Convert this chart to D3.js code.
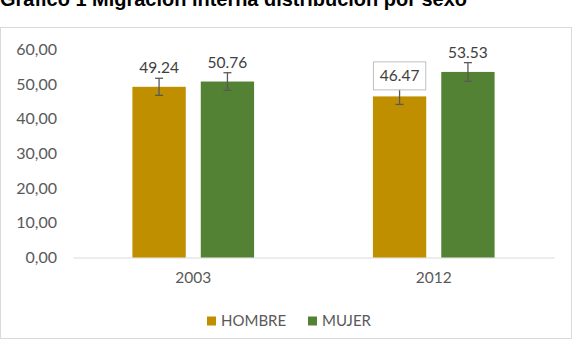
<!DOCTYPE html>
<html>
<head>
<meta charset="utf-8">
<script src="https://cdn.jsdelivr.net/npm/d3@7"></script>
<style>
  body { margin: 0; background: #fff; }
  svg { display: block; }
</style>
</head>
<body>
<div id="chart"></div>
<script>
// data
const years = ["2003", "2012"];
const seriesNames = ["HOMBRE", "MUJER"];
const hombre = [49.24, 46.47];
const mujer = [50.76, 53.53];
const hombreErr = [2.46, 2.32];
const mujerErr = [2.54, 2.68];
const yTicks = [0, 10, 20, 30, 40, 50, 60];
const colors = ["#bf8f00", "#548235"];

const W = 576, H = 350;
const margin = { top: 49.5, right: 22, bottom: 92.5, left: 73 };
const width = W - margin.left - margin.right,
    height = H - margin.top - margin.bottom;

const svg = d3.select("#chart").append("svg")
    .attr("width", W)
    .attr("height", H);

// title (top is cut off in the source too)
svg.append("text")
    .attr("x", 0)
    .attr("y", 6)
    .attr("textLength", 467)
    .attr("lengthAdjust", "spacingAndGlyphs")
    .style("font-family", "Liberation Sans, Arial, sans-serif")
    .style("font-weight", "bold")
    .style("font-size", "20px")
    .attr("fill", "#000")
    .text("Gráfico 1 Migración interna distribución por sexo");

// chart border
svg.append("rect")
    .attr("x", 0.5).attr("y", 27.5)
    .attr("width", 571).attr("height", 311)
    .attr("fill", "none")
    .attr("stroke", "#d9d9d9");

const g = svg.append("g")
    .attr("transform", "translate(" + margin.left + "," + margin.top + ")");

const x0 = d3.scaleBand()
    .domain(years)
    .range([0, width])
    .paddingInner(0.494)
    .paddingOuter(0.247);

const x1 = d3.scaleBand()
    .domain(seriesNames)
    .range([0, x0.bandwidth()])
    .paddingInner(0.22);

const y = d3.scaleLinear()
    .domain([0, 60])
    .range([height, 0]);

const font = "Lato, 'Open Sans', sans-serif";

// y axis labels
const yAxis = g.append("g")
    .call(d3.axisLeft(y).tickValues(yTicks).tickSize(0).tickPadding(16)
        .tickFormat(d => d3.format(".2f")(d).replace(".", ",")));
yAxis.select(".domain").remove();
yAxis.selectAll("text")
    .style("font-family", font)
    .style("font-size", "16px")
    .attr("fill", "#595959");

// x axis
const xAxis = g.append("g")
    .attr("transform", "translate(0," + height + ")")
    .call(d3.axisBottom(x0.copy().paddingInner(0).paddingOuter(0)).tickSize(0).tickPadding(14));
xAxis.select(".domain").attr("stroke", "#d9d9d9");
xAxis.selectAll("text")
    .style("font-family", font)
    .style("font-size", "15.5px")
    .attr("fill", "#595959");

const rows = years.map((yr, i) => ({
    year: yr,
    vals: [
        { s: seriesNames[0], v: hombre[i], e: hombreErr[i], c: colors[0] },
        { s: seriesNames[1], v: mujer[i], e: mujerErr[i], c: colors[1] }
    ]
}));

const groups = g.selectAll(".grp")
    .data(rows)
    .enter().append("g")
    .attr("class", "grp")
    .attr("transform", d => "translate(" + x0(d.year) + ",0)");

const bars = groups.selectAll(".bar")
    .data(d => d.vals.map(v => Object.assign({ year: d.year }, v)))
    .enter().append("g")
    .attr("class", "bar");

bars.append("rect")
    .attr("x", d => x1(d.s))
    .attr("y", d => y(d.v))
    .attr("width", x1.bandwidth())
    .attr("height", d => height - y(d.v))
    .attr("fill", d => d.c);

// error bars
const eb = bars.append("g")
    .attr("stroke", "#595959")
    .attr("stroke-width", 1.3);
eb.append("line")
    .attr("x1", d => x1(d.s) + x1.bandwidth() / 2)
    .attr("x2", d => x1(d.s) + x1.bandwidth() / 2)
    .attr("y1", d => y(d.v + d.e))
    .attr("y2", d => y(d.v - d.e));
[1, -1].forEach(sgn => {
    eb.append("line")
        .attr("x1", d => x1(d.s) + x1.bandwidth() / 2 - 4)
        .attr("x2", d => x1(d.s) + x1.bandwidth() / 2 + 4)
        .attr("y1", d => y(d.v + sgn * d.e))
        .attr("y2", d => y(d.v + sgn * d.e));
});

// data labels; 2012 HOMBRE carries a boxed label
bars.each(function (d) {
    const sel = d3.select(this);
    const cx = x1(d.s) + x1.bandwidth() / 2;
    const top = y(d.v + d.e);
    const boxed = d.year === "2012" && d.s === "HOMBRE";
    if (boxed) {
        sel.append("rect")
            .attr("x", x1(d.s) + 0.5)
            .attr("y", top - 26.5)
            .attr("width", x1.bandwidth() - 1)
            .attr("height", 28)
            .attr("fill", "#fff")
            .attr("stroke", "#bfbfbf");
    }
    sel.append("text")
        .attr("x", cx)
        .attr("y", boxed ? top - 7 : top - 5)
        .attr("text-anchor", "middle")
        .style("font-family", font)
        .style("font-size", "15.5px")
        .attr("fill", "#404040")
        .text(d.v.toFixed(2));
});

// legend
const legend = svg.append("g")
    .attr("transform", "translate(0,321)");
const legX = [207, 308];
seriesNames.forEach((s, i) => {
    legend.append("rect")
        .attr("x", legX[i]).attr("y", -4.5)
        .attr("width", 9).attr("height", 9)
        .attr("fill", colors[i]);
    legend.append("text")
        .attr("x", legX[i] + 14)
        .attr("y", 0)
        .attr("dy", "0.35em")
        .style("font-family", font)
        .style("font-size", "15px")
        .attr("fill", "#595959")
        .text(s);
});
</script>
</body>
</html>
